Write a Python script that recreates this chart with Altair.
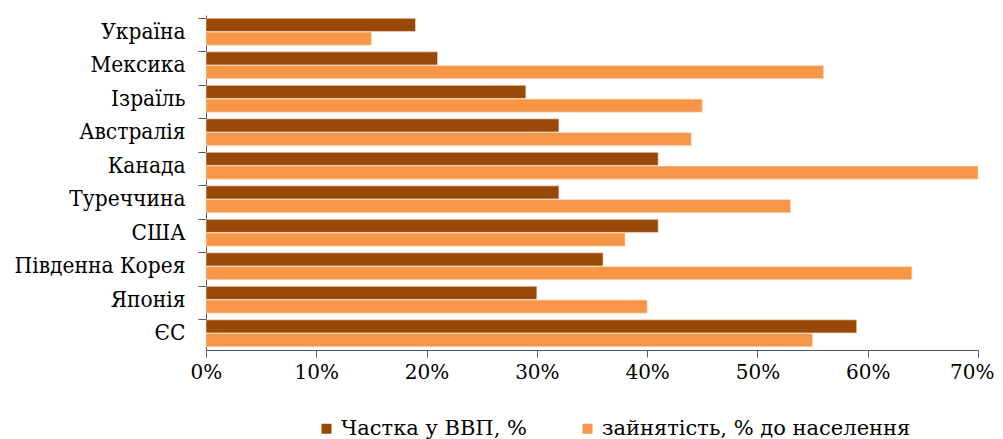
import altair as alt
import pandas as pd

countries = ["Україна", "Мексика", "Ізраїль", "Австралія", "Канада",
             "Туреччина", "США", "Південна Корея", "Японія", "ЄС"]
series_names = ["Частка у ВВП, %", "зайнятість, % до населення"]
gdp_share = [0.19, 0.21, 0.29, 0.32, 0.41, 0.32, 0.41, 0.36, 0.30, 0.59]
employment = [0.15, 0.56, 0.45, 0.44, 0.70, 0.53, 0.38, 0.64, 0.40, 0.55]
x_ticks = [0, 0.1, 0.2, 0.3, 0.4, 0.5, 0.6, 0.7]
colors = ["#984807", "#F79646"]

rows = []
for c, g, e in zip(countries, gdp_share, employment):
    rows.append({"country": c, "series": series_names[0], "value": g})
    rows.append({"country": c, "series": series_names[1], "value": e})
df = pd.DataFrame(rows)

AXIS_COLOR = "#595959"

chart = alt.Chart(df).mark_bar(
    stroke="#fbe3cf", strokeWidth=0.6
).encode(
    x=alt.X("value:Q",
            scale=alt.Scale(domain=[0, 0.7], nice=False),
            axis=alt.Axis(values=x_ticks, format=".0%", title=None, grid=False,
                          tickSize=7, labelPadding=5, labelFontSize=20,
                          labelFont="DejaVu Serif", labelColor="#000000",
                          domainColor=AXIS_COLOR, tickColor=AXIS_COLOR,
                          labelFlush=True, labelFlushOffset=16)),
    y=alt.Y("country:N", sort=countries,
            scale=alt.Scale(paddingInner=0.2, paddingOuter=0.1),
            axis=alt.Axis(title=None, bandPosition=0, tickSize=8, labelPadding=13,
                          labelFontSize=22.5, labelFont="DejaVu Serif Condensed",
                          labelColor="#000000",
                          domainColor=AXIS_COLOR, tickColor=AXIS_COLOR,
                          labelLimit=300)),
    yOffset=alt.YOffset("series:N", sort=series_names,
                        scale=alt.Scale(paddingInner=0.05)),
    color=alt.Color("series:N", sort=series_names,
                    scale=alt.Scale(domain=series_names, range=colors),
                    legend=alt.Legend(title=None, orient="none", direction="horizontal",
                                      legendX=110, legendY=403, columns=2,
                                      columnPadding=50, symbolType="square",
                                      symbolSize=100, symbolStrokeWidth=0,
                                      symbolOpacity=1, labelFont="DejaVu Serif",
                                      labelFontSize=21, labelColor="#000000",
                                      labelOffset=4, labelLimit=400)),
).properties(
    width=772, height=335,
    autosize=alt.AutoSizeParams(type="none"),
    padding={"left": 198, "top": 7, "right": 17, "bottom": 89},
).configure_view(stroke=None)

chart.save("out.html", embed_options={"renderer": "svg", "actions": False})
